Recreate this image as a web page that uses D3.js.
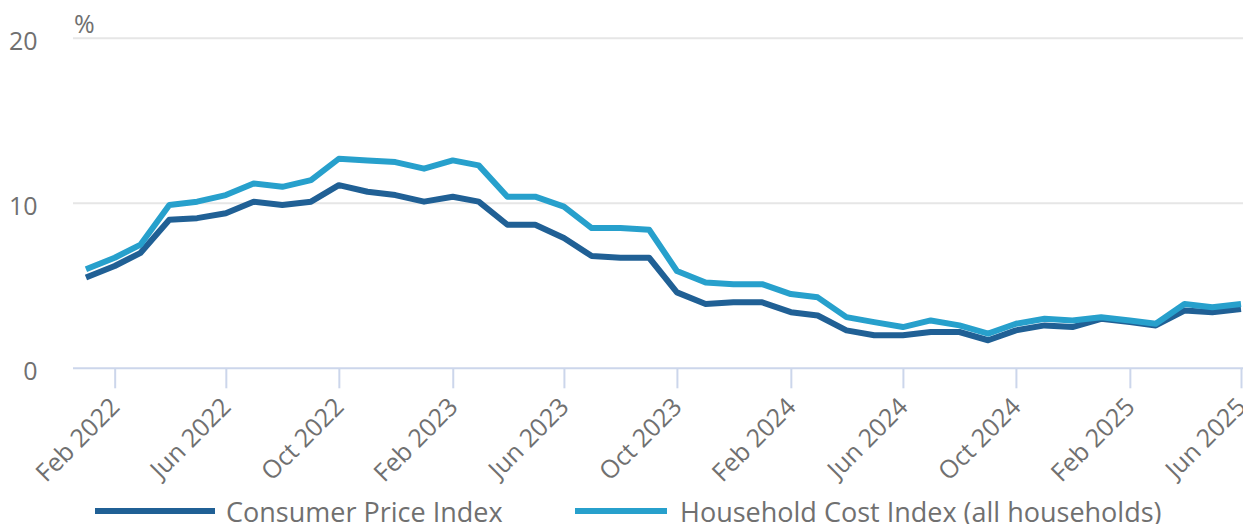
<!DOCTYPE html>
<html>
<head>
<meta charset="utf-8">
<script src="https://cdn.jsdelivr.net/npm/d3@7/dist/d3.min.js"></script>
<style>
  body { margin: 0; background: #fff; }
  svg text { font-family: "Open Sans", sans-serif; fill: #707070; }
</style>
</head>
<body>
<div id="container"></div>
<script>
(function () {
  // monthly, Jan 2022 .. Jun 2025
  var months = ["2022-01", "2022-02", "2022-03", "2022-04", "2022-05", "2022-06", "2022-07", "2022-08", "2022-09", "2022-10", "2022-11", "2022-12",
                "2023-01", "2023-02", "2023-03", "2023-04", "2023-05", "2023-06", "2023-07", "2023-08", "2023-09", "2023-10", "2023-11", "2023-12",
                "2024-01", "2024-02", "2024-03", "2024-04", "2024-05", "2024-06", "2024-07", "2024-08", "2024-09", "2024-10", "2024-11", "2024-12",
                "2025-01", "2025-02", "2025-03", "2025-04", "2025-05", "2025-06"];

  var cpi = [5.5, 6.2, 7.0, 9.0, 9.1, 9.4, 10.1, 9.9, 10.1, 11.1, 10.7, 10.5,
             10.1, 10.4, 10.1, 8.7, 8.7, 7.9, 6.8, 6.7, 6.7, 4.6, 3.9, 4.0,
             4.0, 3.4, 3.2, 2.3, 2.0, 2.0, 2.2, 2.2, 1.7, 2.3, 2.6, 2.5,
             3.0, 2.8, 2.6, 3.5, 3.4, 3.6];

  var hci = [6.0, 6.7, 7.5, 9.9, 10.1, 10.5, 11.2, 11.0, 11.4, 12.7, 12.6, 12.5,
             12.1, 12.6, 12.3, 10.4, 10.4, 9.8, 8.5, 8.5, 8.4, 5.9, 5.2, 5.1,
             5.1, 4.5, 4.3, 3.1, 2.8, 2.5, 2.9, 2.6, 2.1, 2.7, 3.0, 2.9,
             3.1, 2.9, 2.7, 3.9, 3.7, 3.9];

  var tickMonths = ["2022-02", "2022-06", "2022-10", "2023-02", "2023-06", "2023-10",
                    "2024-02", "2024-06", "2024-10", "2025-02", "2025-06"];
  var yTicks = [0, 10, 20];

  var seriesNames = ["Consumer Price Index", "Household Cost Index (all households)"];
  var seriesColors = ["#206095", "#27a0cc"];

  var width = 1243, height = 524;
  var parse = d3.timeParse("%Y-%m");

  var svg = d3.select("#container").append("svg").attr("width", width).attr("height", height);

  var x = d3.scaleTime().domain([new Date(2021, 11, 18), new Date(2025, 5, 1)]).range([73, 1241]);
  var y = d3.scaleLinear().domain([0, 20]).range([368.3, 38.3]);

  // gridlines
  svg.selectAll(".grid").data(yTicks.filter(function (d) { return d > 0; })).enter().append("line")
    .attr("x1", 73).attr("x2", width)
    .attr("y1", function (d) { return y(d); }).attr("y2", function (d) { return y(d); })
    .attr("stroke", "#e6e6e6").attr("stroke-width", 2);

  svg.selectAll(".ylab").data(yTicks).enter().append("text")
    .attr("x", 37.5).attr("y", function (d) { return y(d) + 12; })
    .attr("text-anchor", "end").style("font-size", "25px")
    .text(function (d) { return d; });

  svg.append("text").attr("x", 74).attr("y", 32.5).style("font-size", "25px").text("%");

  // x axis
  var xAxis = d3.axisBottom(x)
    .tickValues(tickMonths.map(parse))
    .tickSize(20).tickSizeOuter(0)
    .tickFormat(d3.timeFormat("%b %Y"));

  var gx = svg.append("g").attr("transform", "translate(0," + y(0) + ")").call(xAxis);
  gx.select(".domain").remove();
  gx.selectAll(".tick line").attr("stroke", "#ccd6eb").attr("stroke-width", 2);
  gx.selectAll(".tick text")
    .attr("y", null).attr("dy", null)
    .attr("text-anchor", "end")
    .attr("transform", "translate(6,40) rotate(-45)")
    .style("font-size", "25px").style("font-family", "'Open Sans', sans-serif").attr("fill", "#707070");
  svg.append("line").attr("x1", 73).attr("x2", width)
    .attr("y1", y(0)).attr("y2", y(0))
    .attr("stroke", "#ccd6eb").attr("stroke-width", 2);

  var line = d3.line()
    .x(function (d, i) { return x(parse(months[i])); })
    .y(function (d) { return y(d); });

  // CPI first, HCI on top where they overlap
  [cpi, hci].forEach(function (s, k) {
    svg.append("path").datum(s)
      .attr("fill", "none")
      .attr("stroke", seriesColors[k])
      .attr("stroke-width", 6)
      .attr("stroke-linejoin", "round")
      .attr("d", line);
  });

  // legend
  var legendX = [95, 575];
  var leg = svg.selectAll(".leg").data(seriesNames).enter().append("g")
    .attr("transform", function (d, i) { return "translate(" + legendX[i] + ",511)"; });
  leg.append("line").attr("x1", 0).attr("x2", function (d, i) { return i === 0 ? 120 : 92; })
    .attr("stroke", function (d, i) { return seriesColors[i]; }).attr("stroke-width", 6);
  leg.append("text").attr("x", function (d, i) { return i === 0 ? 131 : 105; }).attr("y", 10.5)
    .style("font-size", "27px").text(function (d) { return d; });
})();
</script>
</body>
</html>
